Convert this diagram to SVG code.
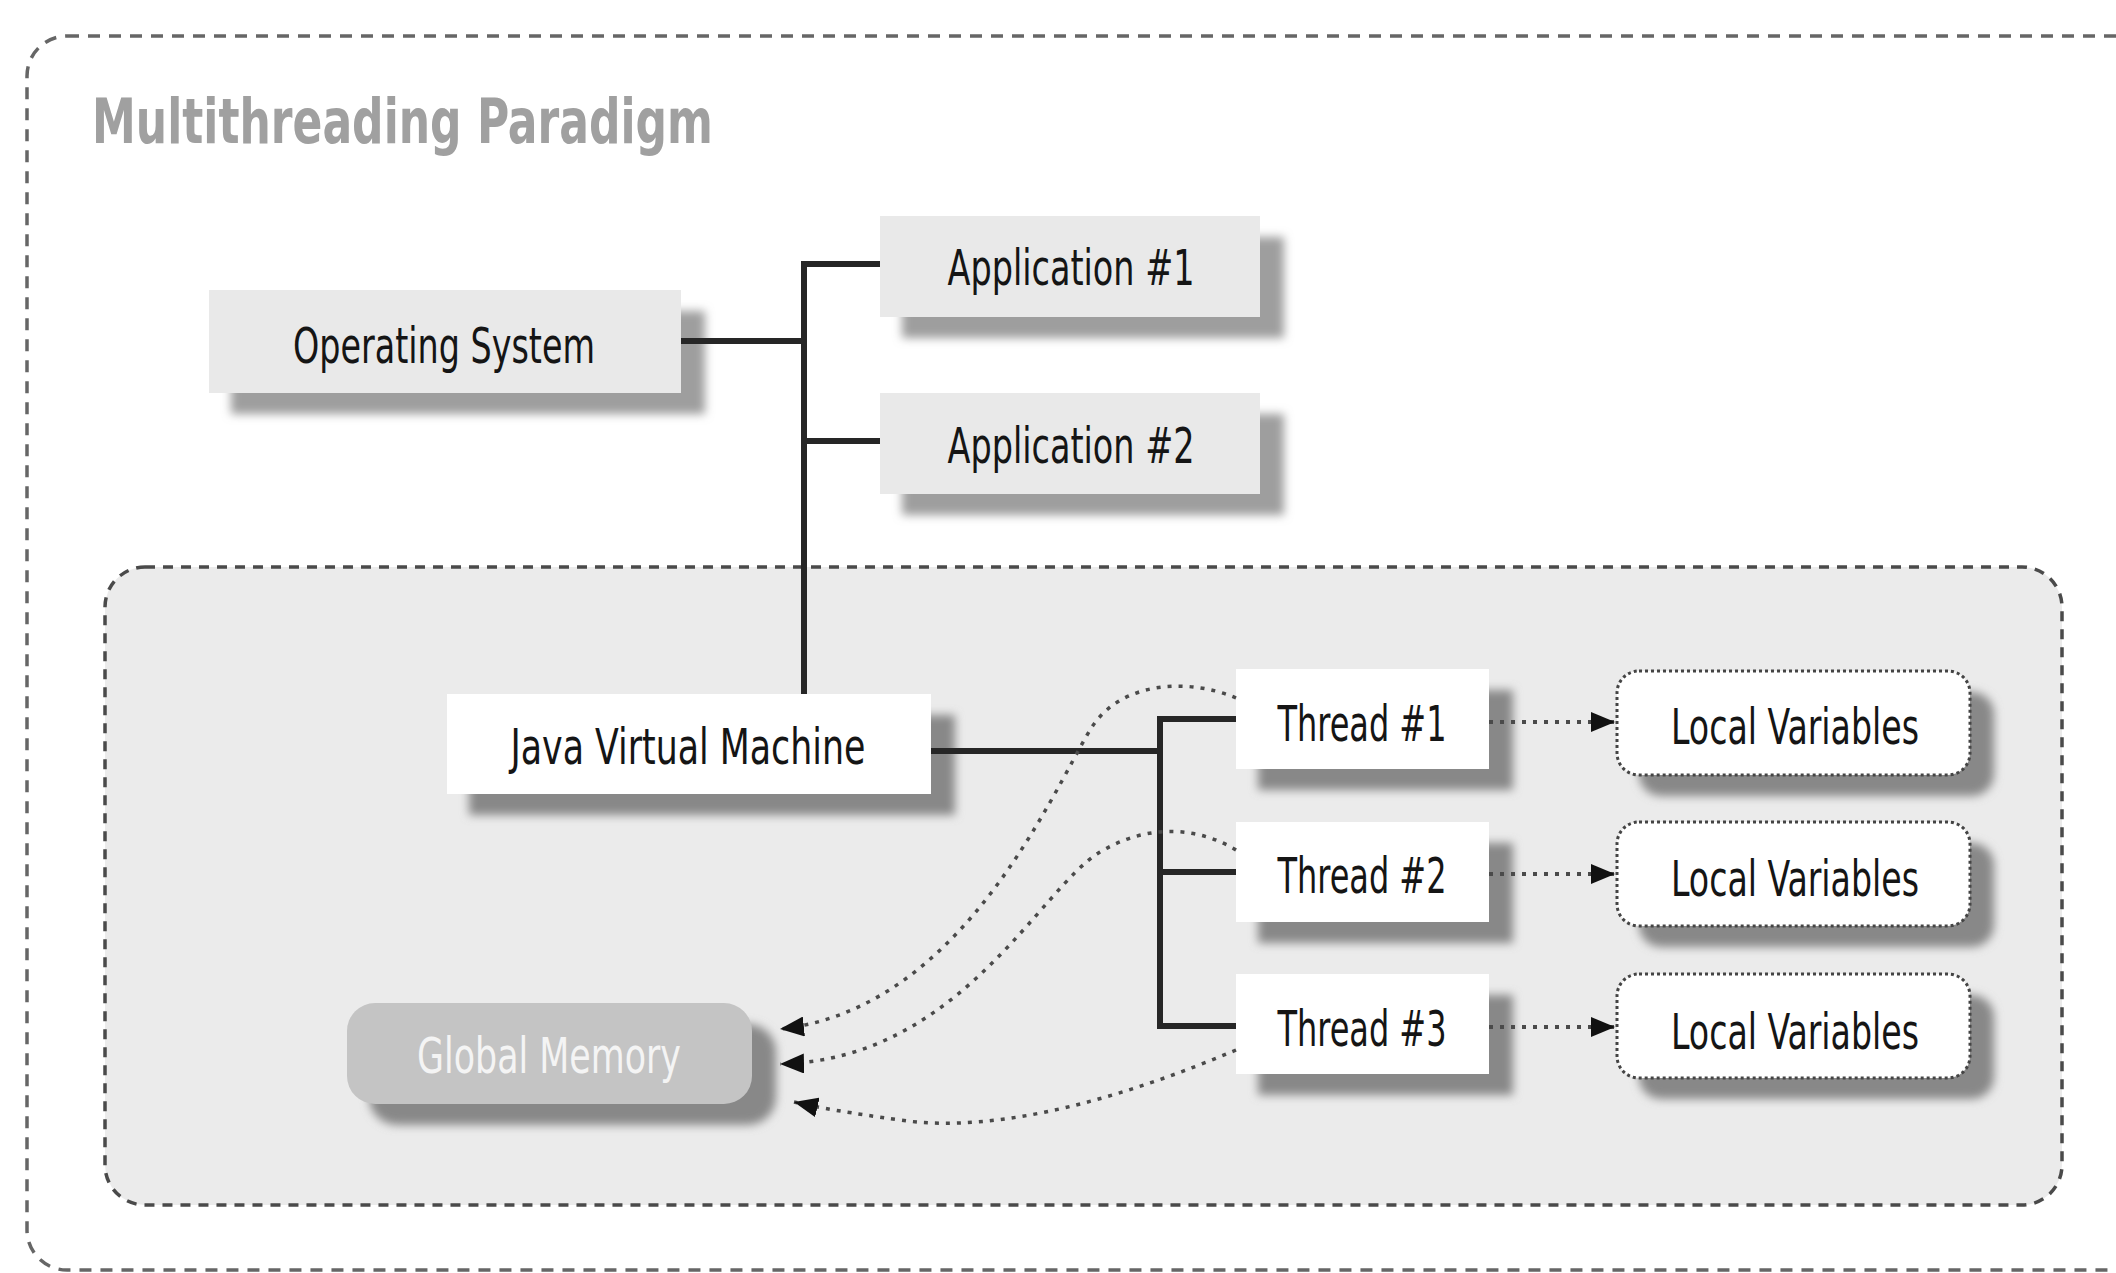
<svg xmlns="http://www.w3.org/2000/svg" width="2116" height="1273" viewBox="0 0 2116 1273">
<defs>
<filter id="sh" x="-20%" y="-30%" width="140%" height="160%"><feGaussianBlur stdDeviation="5"/></filter>
<marker id="ah" viewBox="0 0 24 20" refX="24" refY="10" markerWidth="24" markerHeight="20" markerUnits="userSpaceOnUse" orient="auto"><path d="M0,0 L24,10 L0,20 Z" fill="#111"/></marker>
<style>
.lbl{font-family:"Liberation Sans Narrow","DejaVu Sans Condensed","Liberation Sans",sans-serif;font-size:50px;fill:#151515;text-anchor:middle}
.title{font-family:"Liberation Sans Narrow","DejaVu Sans Condensed","Liberation Sans",sans-serif;font-size:62px;font-weight:bold;fill:#a0a0a0}
.grey{fill:#e9e9e9}
.white{fill:#ffffff}
.shL{fill:#9e9e9e;filter:url(#sh)}
.shD{fill:#888888;filter:url(#sh)}
.conn{stroke:#262626;stroke-width:6;fill:none}
.dot{stroke:#4a4a4a;stroke-width:4;stroke-dasharray:4 7;fill:none}
.curve{stroke:#4a4a4a;stroke-width:3.5;stroke-dasharray:4 7;fill:none}
</style>
</defs>
<rect width="2116" height="1273" fill="#ffffff"/>
<g id="outer">
<rect x="27" y="36" width="2130" height="1234" rx="40" fill="none" stroke="#666" stroke-width="3.5" stroke-dasharray="12 9"/>
<text class="title" x="92" y="143" textLength="621" lengthAdjust="spacingAndGlyphs">Multithreading Paradigm</text>
</g>
<g id="jvm-area">
<rect x="105" y="567" width="1957" height="638" rx="40" fill="#ebebeb" stroke="#4a4a4a" stroke-width="3.5" stroke-dasharray="10 8"/>
</g>
<g id="os">
<rect class="shL" x="231" y="311" width="474" height="103"/>
<rect class="grey" x="209" y="290" width="472" height="103"/>
<text class="lbl" x="444" y="363" textLength="302" lengthAdjust="spacingAndGlyphs">Operating System</text>
</g>
<g id="app1">
<rect class="shL" x="902" y="237" width="382" height="101"/>
<rect class="grey" x="880" y="216" width="380" height="101"/>
<text class="lbl" x="1071" y="285" textLength="247" lengthAdjust="spacingAndGlyphs">Application #1</text>
</g>
<g id="app2">
<rect class="shL" x="902" y="414" width="382" height="101"/>
<rect class="grey" x="880" y="393" width="380" height="101"/>
<text class="lbl" x="1071" y="463" textLength="247" lengthAdjust="spacingAndGlyphs">Application #2</text>
</g>
<g id="jvm">
<rect class="shD" x="469" y="715" width="486" height="100"/>
<rect class="white" x="447" y="694" width="484" height="100"/>
<text class="lbl" x="688" y="764" textLength="355" lengthAdjust="spacingAndGlyphs">Java Virtual Machine</text>
</g>
<g id="thread1">
<rect class="shD" x="1258" y="690" width="255" height="100"/>
<rect class="white" x="1236" y="669" width="253" height="100"/>
<text class="lbl" x="1362" y="741" textLength="169" lengthAdjust="spacingAndGlyphs">Thread #1</text>
</g>
<g id="thread2">
<rect class="shD" x="1258" y="843" width="255" height="100"/>
<rect class="white" x="1236" y="822" width="253" height="100"/>
<text class="lbl" x="1362" y="893" textLength="169" lengthAdjust="spacingAndGlyphs">Thread #2</text>
</g>
<g id="thread3">
<rect class="shD" x="1258" y="995" width="255" height="100"/>
<rect class="white" x="1236" y="974" width="253" height="100"/>
<text class="lbl" x="1362" y="1046" textLength="169" lengthAdjust="spacingAndGlyphs">Thread #3</text>
</g>
<g id="lv1">
<rect class="shD" x="1639" y="692" width="355" height="104" rx="22"/>
<rect class="white" x="1617" y="671" width="353" height="104" rx="22" stroke="#444" stroke-width="3" stroke-dasharray="3 3"/>
<text class="lbl" x="1795" y="744" textLength="248" lengthAdjust="spacingAndGlyphs">Local Variables</text>
</g>
<g id="lv2">
<rect class="shD" x="1639" y="843" width="355" height="104" rx="22"/>
<rect class="white" x="1617" y="822" width="353" height="104" rx="22" stroke="#444" stroke-width="3" stroke-dasharray="3 3"/>
<text class="lbl" x="1795" y="896" textLength="248" lengthAdjust="spacingAndGlyphs">Local Variables</text>
</g>
<g id="lv3">
<rect class="shD" x="1639" y="995" width="355" height="104" rx="22"/>
<rect class="white" x="1617" y="974" width="353" height="104" rx="22" stroke="#444" stroke-width="3" stroke-dasharray="3 3"/>
<text class="lbl" x="1795" y="1049" textLength="248" lengthAdjust="spacingAndGlyphs">Local Variables</text>
</g>
<g id="global-memory">
<rect class="shD" x="369" y="1024" width="407" height="101" rx="28"/>
<rect x="347" y="1003" width="405" height="101" rx="28" fill="#c4c4c4"/>
<text class="lbl" x="549" y="1073" textLength="264" lengthAdjust="spacingAndGlyphs" style="fill:#f4f4f4">Global Memory</text>
</g>
<g id="connectors">
<path class="conn" d="M681,341 H804 M804,262 V694 M801,264 H880 M804,441 H880"/>
<path class="conn" d="M931,751 H1160 M1160,716 V1029 M1157,719 H1236 M1160,872 H1236 M1157,1026 H1236"/>
<path class="dot" d="M1489,722 H1615" marker-end="url(#ah)"/>
<path class="dot" d="M1489,874 H1615" marker-end="url(#ah)"/>
<path class="dot" d="M1489,1027 H1615" marker-end="url(#ah)"/>
<path class="curve" d="M1236,698 C1190,678 1120,680 1090,730 C1050,797 960,1010 780,1029" marker-end="url(#ah)"/>
<path class="curve" d="M1236,850 C1200,828 1150,822 1100,852 C1040,888 960,1060 780,1064" marker-end="url(#ah)"/>
<path class="curve" d="M1236,1050 C1130,1095 1000,1135 900,1120 C850,1113 820,1108 794,1102" marker-end="url(#ah)"/>
</g>
</svg>
